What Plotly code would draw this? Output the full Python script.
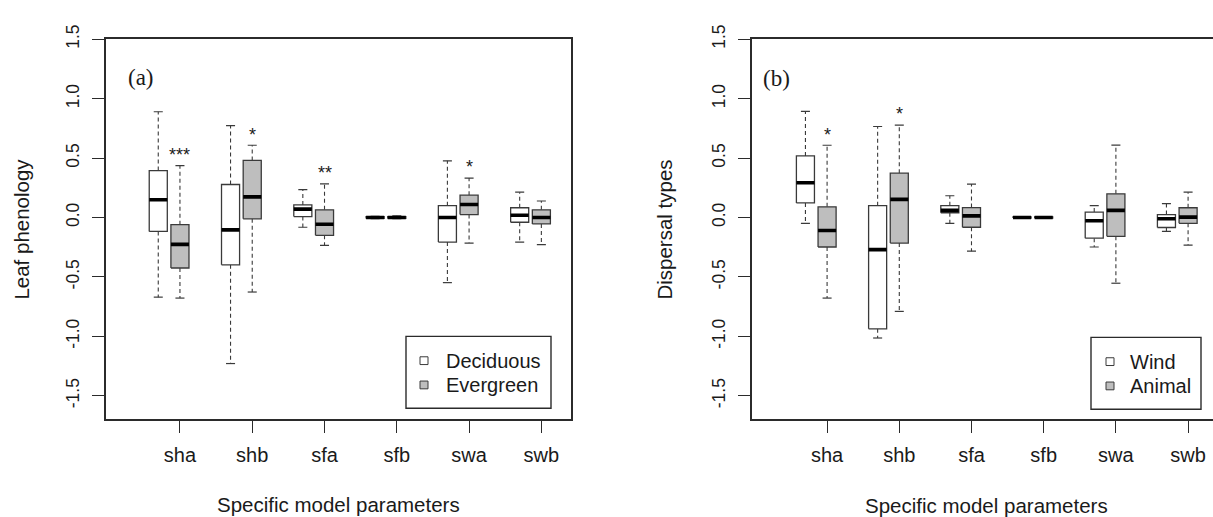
import plotly.graph_objects as go

W, H = 1213, 517

# ---- data -----------------------------------------------------------------
params = ["sha", "shb", "sfa", "sfb", "swa", "swb"]

# (a) leaf phenology
dec_upper = [0.890, 0.774, 0.234, 0.010, 0.477, 0.213]
dec_q3    = [0.395, 0.278, 0.106, 0.008, 0.100, 0.082]
dec_med   = [0.150, -0.104, 0.071, 0.000, 0.000, 0.019]
dec_q1    = [-0.117, -0.398, 0.008, -0.008, -0.207, -0.040]
dec_lower = [-0.670, -1.229, -0.082, -0.010, -0.548, -0.207]

eve_upper = [0.436, 0.608, 0.283, 0.015, 0.332, 0.139]
eve_q3    = [-0.060, 0.480, 0.065, 0.008, 0.188, 0.065]
eve_med   = [-0.226, 0.174, -0.057, 0.000, 0.109, 0.000]
eve_q1    = [-0.425, -0.011, -0.150, -0.008, 0.025, -0.054]
eve_lower = [-0.678, -0.627, -0.234, -0.010, -0.215, -0.229]
eve_sig   = ["***", "*", "**", "", "*", ""]

# (b) dispersal types
wind_upper = [0.894, 0.766, 0.183, 0.005, 0.100, 0.117]
wind_q3    = [0.518, 0.100, 0.100, 0.005, 0.046, 0.025]
wind_med   = [0.292, -0.270, 0.060, 0.000, -0.027, -0.011]
wind_q1    = [0.123, -0.937, 0.040, -0.005, -0.174, -0.084]
wind_lower = [-0.049, -1.014, -0.049, -0.005, -0.248, -0.117]

anim_upper = [0.608, 0.777, 0.281, 0.005, 0.610, 0.213]
anim_q3    = [0.090, 0.373, 0.084, 0.005, 0.199, 0.082]
anim_med   = [-0.109, 0.153, 0.014, 0.000, 0.060, 0.003]
anim_q1    = [-0.248, -0.215, -0.082, -0.005, -0.158, -0.049]
anim_lower = [-0.678, -0.790, -0.283, -0.005, -0.553, -0.232]
anim_sig   = ["*", "*", "", "", "", ""]

ytick_vals = [-1.5, -1.0, -0.5, 0.0, 0.5, 1.0, 1.5]
ytick_text = ["-1.5", "-1.0", "-0.5", "0.0", "0.5", "1.0", "1.5"]

# ---- styling --------------------------------------------------------------
WHITE = "#ffffff"
GREY = "#bebebe"
EDGE = "#3a3a3a"
FRAME = "#2b2b2b"
TXT = "#1a1a1a"
SANS = "Liberation Sans, Arial, sans-serif"
SERIF = "Liberation Serif, Times New Roman, serif"

BOX_W = 0.25      # box width in category units
CAP_W = 0.125     # staple width
PAIR_OFF = -0.30  # offset of the first box of each pair from the tick

fig = go.Figure()


def add_boxes(xa, ya, centers, upper, q3, med, q1, lower, fill):
    bx, by, mx, my, wx, wy, cx, cy = [], [], [], [], [], [], [], []
    for c, u, t, m, b, lo in zip(centers, upper, q3, med, q1, lower):
        l, r = c - BOX_W / 2, c + BOX_W / 2
        bx += [l, r, r, l, l, None]
        by += [b, b, t, t, b, None]
        mx += [l, r, None]
        my += [m, m, None]
        wx += [c, c, None, c, c, None]
        wy += [t, u, None, b, lo, None]
        cx += [c - CAP_W / 2, c + CAP_W / 2, None, c - CAP_W / 2, c + CAP_W / 2, None]
        cy += [u, u, None, lo, lo, None]
    common = dict(xaxis=xa, yaxis=ya, showlegend=False, hoverinfo="skip")
    fig.add_trace(go.Scatter(x=wx, y=wy, mode="lines",
                             line=dict(color=EDGE, width=1.1, dash="4px,3px"), **common))
    fig.add_trace(go.Scatter(x=cx, y=cy, mode="lines",
                             line=dict(color=EDGE, width=1.2), **common))
    fig.add_trace(go.Scatter(x=bx, y=by, mode="lines", fill="toself", fillcolor=fill,
                             line=dict(color=EDGE, width=1.3), **common))
    fig.add_trace(go.Scatter(x=mx, y=my, mode="lines",
                             line=dict(color="#000000", width=3.6), **common))


idx = list(range(len(params)))
first = [i + PAIR_OFF for i in idx]
second = idx

add_boxes("x", "y", first, dec_upper, dec_q3, dec_med, dec_q1, dec_lower, WHITE)
add_boxes("x", "y", second, eve_upper, eve_q3, eve_med, eve_q1, eve_lower, GREY)
add_boxes("x2", "y2", first, wind_upper, wind_q3, wind_med, wind_q1, wind_lower, WHITE)
add_boxes("x2", "y2", second, anim_upper, anim_q3, anim_med, anim_q1, anim_lower, GREY)

annotations = []


def add_sig(xref, yref, centers, upper, sig):
    for c, u, s in zip(centers, upper, sig):
        if s:
            annotations.append(dict(x=c, y=u + 0.09, xref=xref, yref=yref, text=s,
                                    showarrow=False, yanchor="middle", xanchor="center",
                                    font=dict(family=SANS, size=18, color=TXT)))


add_sig("x", "y", second, eve_upper, eve_sig)
add_sig("x2", "y2", second, anim_upper, anim_sig)


def px(v):
    return v / W


def py(v):
    return 1 - v / H


# panel letters
annotations.append(dict(x=px(126), y=py(64), xref="paper", yref="paper", text="(a)",
                        showarrow=False, xanchor="left", yanchor="middle",
                        font=dict(family=SERIF, size=23, color=TXT)))
annotations.append(dict(x=px(761), y=py(65), xref="paper", yref="paper", text="(b)",
                        showarrow=False, xanchor="left", yanchor="middle",
                        font=dict(family=SERIF, size=23, color=TXT)))

# axis titles
for xc, yc, txt in [(339, 504, "Specific model parameters"),
                    (986, 505, "Specific model parameters")]:
    annotations.append(dict(x=px(xc), y=py(yc), xref="paper", yref="paper", text=txt,
                            showarrow=False, xanchor="center", yanchor="middle",
                            font=dict(family=SANS, size=20.5, color=TXT)))
for xc, yc, txt in [(22, 221, "Leaf phenology"), (665, 221, "Dispersal types")]:
    annotations.append(dict(x=px(xc), y=py(yc), xref="paper", yref="paper", text=txt,
                            showarrow=False, textangle=-90, xanchor="center",
                            yanchor="middle", font=dict(family=SANS, size=20.5, color=TXT)))

# legends (framed key with square swatches)
shapes = []
for (l, r, t, b, sx, tx, rows, labels) in [
        (406, 551, 331, 405, 424, 444, (356, 381), ("Deciduous", "Evergreen")),
        (1091, 1201, 332, 406, 1110, 1128, (357, 382), ("Wind", "Animal"))]:
    shapes.append(dict(type="rect", xref="paper", yref="paper",
                       x0=px(l), x1=px(r), y0=py(b), y1=py(t),
                       line=dict(color=FRAME, width=1.4), fillcolor=WHITE, layer="above"))
    for ry, lab, col in zip(rows, labels, (WHITE, GREY)):
        shapes.append(dict(type="rect", xref="paper", yref="paper",
                           x0=px(sx - 4), x1=px(sx + 4), y0=py(ry + 4), y1=py(ry - 4),
                           line=dict(color=EDGE, width=1), fillcolor=col, layer="above"))
        annotations.append(dict(x=px(tx), y=py(ry), xref="paper", yref="paper", text=lab,
                                showarrow=False, xanchor="left", yanchor="middle",
                                font=dict(family=SANS, size=20, color=TXT)))

xcommon = dict(tickmode="array", tickvals=idx, ticktext=params, ticks="outside",
               ticklen=12, tickwidth=1.3, tickcolor=FRAME, showline=True,
               linecolor=FRAME, linewidth=1.5, showgrid=False, zeroline=False,
               tickfont=dict(family=SANS, size=20, color=TXT), ticklabelstandoff=5)
ycommon = dict(tickmode="array", tickvals=ytick_vals, ticktext=ytick_text, ticks="outside",
               ticklen=12, tickwidth=1.3, tickcolor=FRAME, showline=True,
               linecolor=FRAME, linewidth=1.5, showgrid=False, zeroline=False,
               tickangle=-90, range=[-1.695, 1.5],
               tickfont=dict(family=SANS, size=17.5, color=TXT), ticklabelstandoff=6)

fig.update_layout(
    width=W, height=H, margin=dict(l=0, r=0, t=0, b=0),
    paper_bgcolor=WHITE, plot_bgcolor=WHITE, hovermode=False, showlegend=False,
    xaxis=dict(domain=[px(106), px(571)], range=[-1.023, 5.41], mirror=True,
               anchor="y", **xcommon),
    yaxis=dict(domain=[py(416), py(25)], mirror=True, anchor="x", **ycommon),
    xaxis2=dict(domain=[px(752), 1.0], range=[-1.04, 5.345], mirror=True,
                anchor="y2", **xcommon),
    yaxis2=dict(domain=[py(416), py(25)], mirror=False, anchor="x2", **ycommon),
    annotations=annotations, shapes=shapes,
)

fig.write_html("out.html")
